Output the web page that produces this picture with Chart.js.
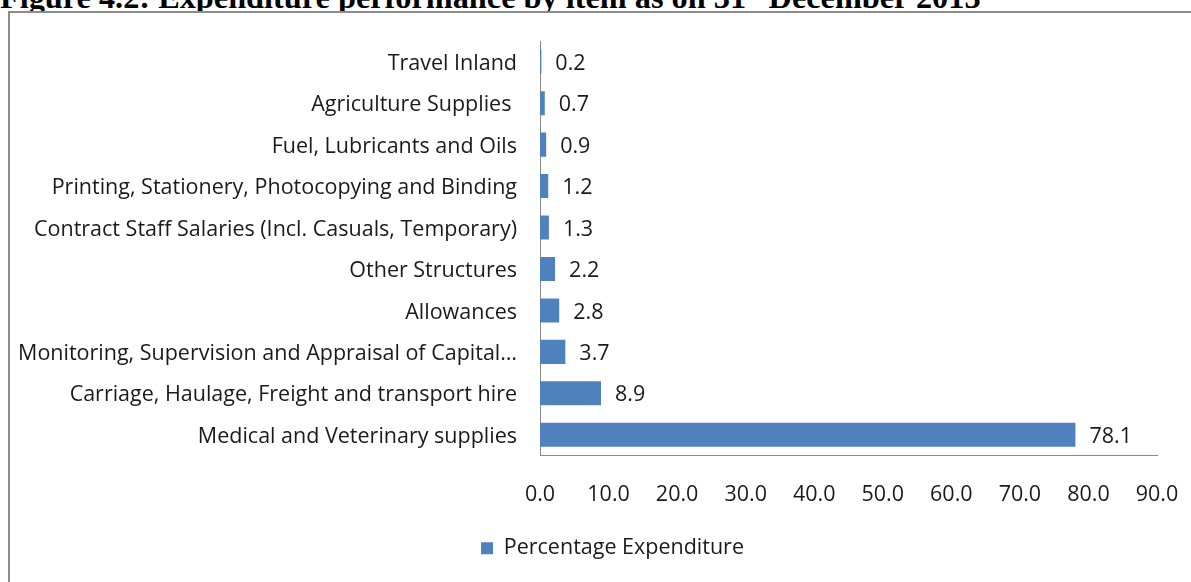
<!DOCTYPE html>
<html>
<head>
<meta charset="utf-8">
<script src="https://cdn.jsdelivr.net/npm/chart.js@4.4.0/dist/chart.umd.min.js"></script>
<style>
  html, body { margin: 0; padding: 0; background: #fff; overflow: hidden; width: 1191px; height: 582px; }
  #title {
    position: absolute; left: 0; top: -27px; white-space: nowrap;
    font: bold 32.3px "Liberation Serif", "Times New Roman", serif; line-height: 32px; color: #000;
  }
  #title sup { font-size: 20px; vertical-align: 12px; }
  #frame {
    position: absolute; left: 8px; top: 11px; width: 1200px; height: 575px;
    border: 2px solid #8c8c8c; background: #fff;
  }
  #wrap { position: relative; width: 1200px; height: 560px; }
</style>
</head>
<body>
<div id="title">Figure 4.2: Expenditure performance by item as on 31<sup>st</sup> December 2013</div>
<div id="frame"><div id="wrap"><canvas id="chart"></canvas></div></div>
<script>
const categories = [
  'Travel Inland',
  'Agriculture Supplies ',
  'Fuel, Lubricants and Oils',
  'Printing, Stationery, Photocopying and Binding',
  'Contract Staff Salaries (Incl. Casuals, Temporary)',
  'Other Structures',
  'Allowances',
  'Monitoring, Supervision and Appraisal of Capital…',
  'Carriage, Haulage, Freight and transport hire',
  'Medical and Veterinary supplies'
];
const percentExpenditure = [0.2, 0.7, 0.9, 1.2, 1.3, 2.2, 2.8, 3.7, 8.9, 78.1];
const seriesName = 'Percentage Expenditure';
const axisMin = 0;
const axisMax = 90;
const axisStep = 10;

const FONT = '"Open Sans", Lato, sans-serif';
const FONT_SIZE = 21.5;
const TEXT = '#1a1a1a';

// value labels at the end of each bar
const barLabels = {
  id: 'barLabels',
  afterDatasetsDraw(chart) {
    const ctx = chart.ctx;
    const meta = chart.getDatasetMeta(0);
    ctx.save();
    ctx.font = FONT_SIZE + 'px ' + FONT;
    ctx.fillStyle = TEXT;
    ctx.textAlign = 'left';
    ctx.textBaseline = 'middle';
    meta.data.forEach((bar, i) => {
      ctx.fillText(percentExpenditure[i].toFixed(1), bar.x + 14, bar.y + 2);
    });
    ctx.restore();
  }
};

// legend sits centred on the whole frame, not just left of the right padding
const legendShift = {
  id: 'legendShift',
  afterLayout(chart) {
    if (chart.legend) chart.legend.left = 58;
  }
};

const ctx = document.getElementById('chart').getContext('2d');
new Chart(ctx, {
  type: 'bar',
  data: {
    labels: categories,
    datasets: [{
      label: seriesName,
      data: percentExpenditure,
      backgroundColor: '#4f81bd',
      borderWidth: 0,
      barPercentage: 0.58,
      categoryPercentage: 1
    }]
  },
  options: {
    indexAxis: 'y',
    responsive: true,
    maintainAspectRatio: false,
    animation: false,
    layout: { padding: { left: 0, right: 53, top: 28, bottom: 4 } },
    scales: {
      x: {
        min: axisMin,
        max: axisMax,
        grid: { display: false, drawTicks: false },
        border: { display: true, color: '#8a8a8a', width: 1 },
        ticks: {
          stepSize: axisStep,
          padding: 26,
          color: TEXT,
          font: { family: FONT, size: FONT_SIZE },
          callback: v => Number(v).toFixed(1)
        },
        afterFit: s => { s.height = 72; s.paddingLeft = 0; s.paddingRight = 0; }
      },
      y: {
        grid: { display: false, drawTicks: false },
        border: { display: true, color: '#8a8a8a', width: 1 },
        ticks: {
          padding: 23,
          labelOffset: 2,
          color: TEXT,
          autoSkip: false,
          font: { family: FONT, size: FONT_SIZE }
        },
        afterFit: s => { s.width = 530; s.paddingTop = 0; s.paddingBottom = 0; }
      }
    },
    plugins: {
      legend: {
        display: true,
        position: 'bottom',
        labels: {
          boxWidth: 12,
          boxHeight: 12,
          color: TEXT,
          font: { family: FONT, size: FONT_SIZE }
        }
      },
      tooltip: { enabled: false }
    }
  },
  plugins: [barLabels, legendShift]
});
</script>
</body>
</html>
